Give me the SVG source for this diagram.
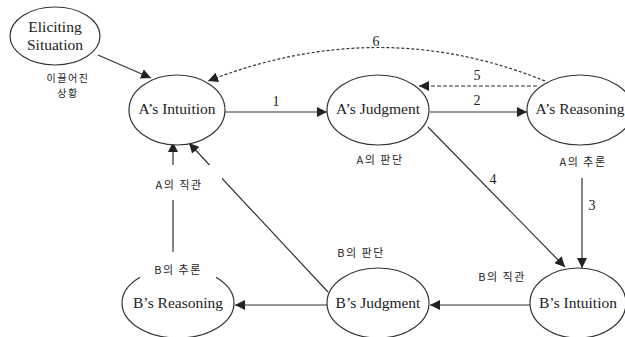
<svg xmlns="http://www.w3.org/2000/svg" width="625" height="337" viewBox="0 0 625 337">
<style>
.node ellipse{fill:#fff;stroke:#333;stroke-width:1.2}
.nt{font-family:"Liberation Serif","DejaVu Serif","Noto Serif","Times New Roman",Times,serif;font-size:15.5px;fill:#222;text-anchor:middle}
.num{font-family:"Liberation Serif","DejaVu Serif","Times New Roman",Times,serif;font-size:14px;fill:#222;text-anchor:middle}
.kr{font-family:"Noto Sans CJK KR","Noto Sans",sans-serif;font-size:11px;fill:#222;text-anchor:middle;letter-spacing:1.5px}
.e{fill:none;stroke:#333;stroke-width:1.2}
.dash{stroke-dasharray:4 2}
.dot{stroke-dasharray:3 2}
</style>
<defs>
<marker id="ah" viewBox="0 0 10 10" refX="10" refY="5" markerWidth="10" markerHeight="10" markerUnits="userSpaceOnUse" orient="auto">
<path d="M0,0 L10,5 L0,10 z" fill="#222"/>
</marker>
</defs>
<rect width="625" height="337" fill="#fff"/>
<g id="connectors">
<path class="e" d="M98,55 L151,78" marker-end="url(#ah)"/>
<path class="e" d="M225,112 L327,112" marker-end="url(#ah)"/>
<path class="e" d="M430,112 L527,112" marker-end="url(#ah)"/>
<path class="e dash" d="M537,86 L419,86" marker-end="url(#ah)"/>
<path class="e dot" d="M545,81 Q380,14 208,81" marker-end="url(#ah)"/>
<path class="e" d="M582,178 L582,268" marker-end="url(#ah)"/>
<path class="e" d="M428,127 L565,267" marker-end="url(#ah)"/>
<path class="e" d="M531,305 L430,305" marker-end="url(#ah)"/>
<path class="e" d="M327,305 L235,305" marker-end="url(#ah)"/>
<path class="e" d="M173,252 L173,142" marker-end="url(#ah)"/>
<path class="e" d="M328,292 L189,143" marker-end="url(#ah)"/>
<text class="num" x="276" y="106">1</text>
<text class="num" x="477" y="105">2</text>
<text class="num" x="592" y="210">3</text>
<text class="num" x="493" y="184">4</text>
<text class="num" x="477" y="80">5</text>
<text class="num" x="376" y="46">6</text>
</g>
<g id="eliciting" class="node">
<ellipse cx="55" cy="36" rx="45" ry="29"/>
<text class="nt" x="55" y="32">Eliciting</text>
<text class="nt" x="55" y="50">Situation</text>
<text class="kr" x="68" y="82" style="font-size:10px">이끌어진</text>
<text class="kr" x="68" y="97" style="font-size:10px">상황</text>
</g>
<g id="a-intuition" class="node">
<ellipse cx="177" cy="110" rx="48" ry="35"/>
<text class="nt" x="177" y="114">A’s Intuition</text>
<rect x="145" y="165" width="77" height="35" fill="#fff"/>
<text class="kr" x="179" y="189">A의 직관</text>
</g>
<g id="a-judgment" class="node">
<ellipse cx="378" cy="110" rx="51" ry="35"/>
<text class="nt" x="378" y="114">A’s Judgment</text>
<text class="kr" x="380" y="164">A의 판단</text>
</g>
<g id="a-reasoning" class="node">
<ellipse cx="580" cy="110" rx="53" ry="35"/>
<text class="nt" x="580" y="114">A’s Reasoning</text>
<text class="kr" x="583" y="166">A의 추론</text>
</g>
<g id="b-intuition" class="node">
<ellipse cx="578" cy="303" rx="48" ry="35"/>
<text class="nt" x="578" y="308">B’s Intuition</text>
<text class="kr" x="502" y="281">B의 직관</text>
</g>
<g id="b-judgment" class="node">
<ellipse cx="378" cy="303" rx="51" ry="35"/>
<text class="nt" x="378" y="308">B’s Judgment</text>
<text class="kr" x="361" y="257">B의 판단</text>
</g>
<g id="b-reasoning" class="node">
<ellipse cx="178" cy="303" rx="56" ry="35"/>
<rect x="140" y="262" width="76" height="20" fill="#fff"/>
<text class="kr" x="178" y="274">B의 추론</text>
<text class="nt" x="178" y="308">B’s Reasoning</text>
</g>
</svg>
